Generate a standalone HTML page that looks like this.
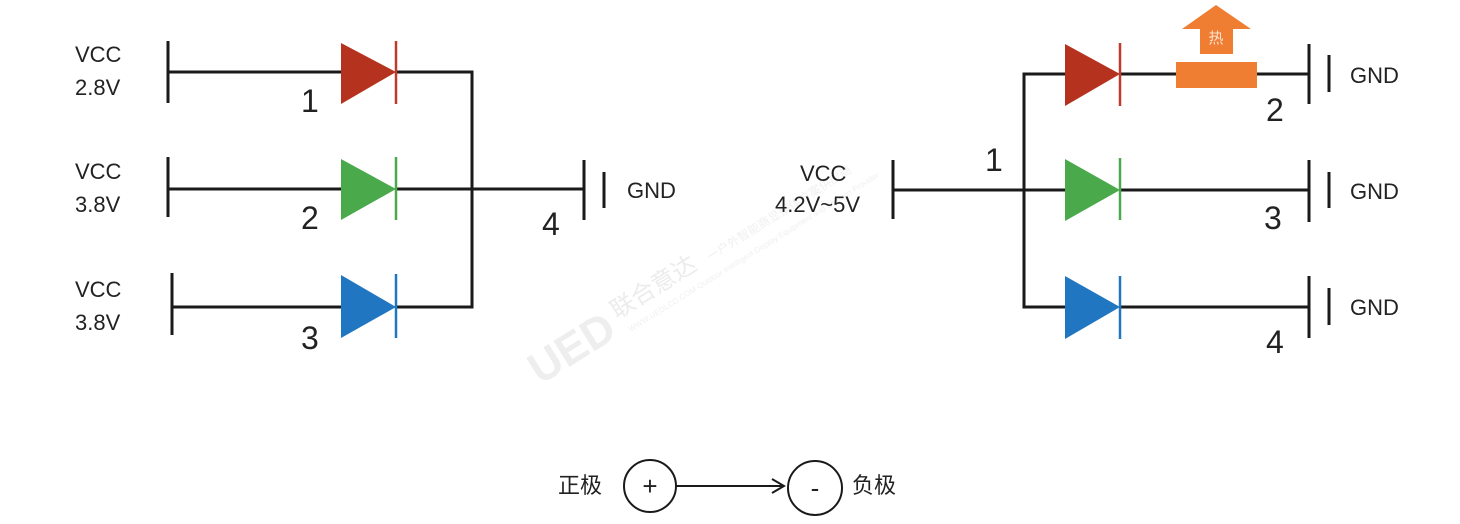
<!DOCTYPE html>
<html><head><meta charset="utf-8"><style>
html,body{margin:0;padding:0;background:#fff;}
svg{display:block;}
text{font-family:"Liberation Sans","Noto Sans CJK SC",sans-serif;fill:#222;}
</style></head><body>
<svg width="1460" height="524" viewBox="0 0 1460 524" xmlns="http://www.w3.org/2000/svg">
<!-- watermark -->
<g transform="rotate(-32 600 330)">
<text x="620" y="330" font-size="24" style="fill:#ececec">联合意达</text>
<text x="730" y="330" font-size="12" style="fill:#f0f0f0">一户外智能商显整体方案供应商</text>
<text x="625" y="348" font-size="8" style="fill:#f0f0f0">WWW.UEDLCD.COM  Outdoor Intelligent Display Equipment and Solution Provider</text>
<text x="520" y="345" font-size="44" font-weight="bold" style="fill:#eeeeee">UED</text>
</g>
<g stroke="#1a1a1a" stroke-width="3" fill="none">
<!-- left -->
<line x1="168" y1="41" x2="168" y2="103"/>
<line x1="168" y1="72" x2="342" y2="72"/>
<line x1="168" y1="157" x2="168" y2="217"/>
<line x1="168" y1="189" x2="342" y2="189"/>
<line x1="172" y1="273" x2="172" y2="335"/>
<line x1="172" y1="307" x2="342" y2="307"/>
<polyline points="396,72 472,72 472,307 396,307"/>
<line x1="396" y1="189" x2="584" y2="189"/>
<line x1="584" y1="160" x2="584" y2="220"/>
<line x1="604" y1="172" x2="604" y2="208"/>
<!-- right -->
<line x1="893" y1="160" x2="893" y2="219"/>
<line x1="893" y1="190" x2="1066" y2="190"/>
<polyline points="1066,74 1024,74 1024,307 1066,307"/>
<line x1="1120" y1="74" x2="1176" y2="74"/>
<line x1="1257" y1="74" x2="1309" y2="74"/>
<line x1="1120" y1="190" x2="1309" y2="190"/>
<line x1="1120" y1="307" x2="1309" y2="307"/>
<line x1="1309" y1="44" x2="1309" y2="104"/>
<line x1="1329" y1="55" x2="1329" y2="92"/>
<line x1="1309" y1="160" x2="1309" y2="222"/>
<line x1="1329" y1="172" x2="1329" y2="208"/>
<line x1="1309" y1="276" x2="1309" y2="338"/>
<line x1="1329" y1="288" x2="1329" y2="325"/>
</g>
<!-- left diodes -->
<polygon points="341,43 396,72 341,104" fill="#b5321e"/>
<line x1="396" y1="41" x2="396" y2="104" stroke="#c0392b" stroke-width="2.5"/>
<polygon points="341,159 396,189 341,220" fill="#4aa94a"/>
<line x1="396" y1="157" x2="396" y2="220" stroke="#4aa94a" stroke-width="2.5"/>
<polygon points="341,275 396,307 341,338" fill="#2176c1"/>
<line x1="396" y1="274" x2="396" y2="338" stroke="#2176c1" stroke-width="2.5"/>
<!-- right diodes -->
<polygon points="1065,44 1120,74 1065,106" fill="#b5321e"/>
<line x1="1120" y1="43" x2="1120" y2="106" stroke="#c0392b" stroke-width="2.5"/>
<polygon points="1065,159 1120,190 1065,221" fill="#4aa94a"/>
<line x1="1120" y1="158" x2="1120" y2="220" stroke="#4aa94a" stroke-width="2.5"/>
<polygon points="1065,276 1120,307 1065,339" fill="#2176c1"/>
<line x1="1120" y1="276" x2="1120" y2="339" stroke="#2176c1" stroke-width="2.5"/>
<!-- resistor + heat arrow -->
<rect x="1176" y="62" width="81" height="26" fill="#ef7d32"/>
<polygon points="1216,5 1251,29 1233,29 1233,54 1200,54 1200,29 1182,29" fill="#ef7d32"/>
<text x="1216" y="43" font-size="15" text-anchor="middle" style="fill:#fbe3d2">热</text>
<!-- labels -->
<g font-size="22">
<text x="75" y="62">VCC</text><text x="75" y="95">2.8V</text>
<text x="75" y="179">VCC</text><text x="75" y="212">3.8V</text>
<text x="75" y="297">VCC</text><text x="75" y="330">3.8V</text>
<text x="627" y="198">GND</text>
<text x="800" y="181">VCC</text><text x="775" y="212">4.2V~5V</text>
<text x="1350" y="83">GND</text><text x="1350" y="199">GND</text><text x="1350" y="315">GND</text>
</g>
<g font-size="32">
<text x="301" y="112">1</text><text x="301" y="229">2</text><text x="301" y="349">3</text>
<text x="542" y="235">4</text>
<text x="985" y="171">1</text>
<text x="1266" y="121">2</text><text x="1264" y="229">3</text><text x="1266" y="353">4</text>
</g>
<!-- bottom legend -->
<text x="558" y="493" font-size="22">正极</text>
<circle cx="650" cy="486" r="26" fill="none" stroke="#1a1a1a" stroke-width="2"/>
<text x="650" y="495" font-size="26" text-anchor="middle">+</text>
<line x1="676" y1="486" x2="783" y2="486" stroke="#1a1a1a" stroke-width="2"/>
<polyline points="772,479 784,486 772,493" fill="none" stroke="#1a1a1a" stroke-width="2"/>
<circle cx="815" cy="488" r="27" fill="none" stroke="#1a1a1a" stroke-width="2"/>
<text x="815" y="497" font-size="26" text-anchor="middle">-</text>
<text x="852" y="493" font-size="22">负极</text>
</svg>
</body></html>
